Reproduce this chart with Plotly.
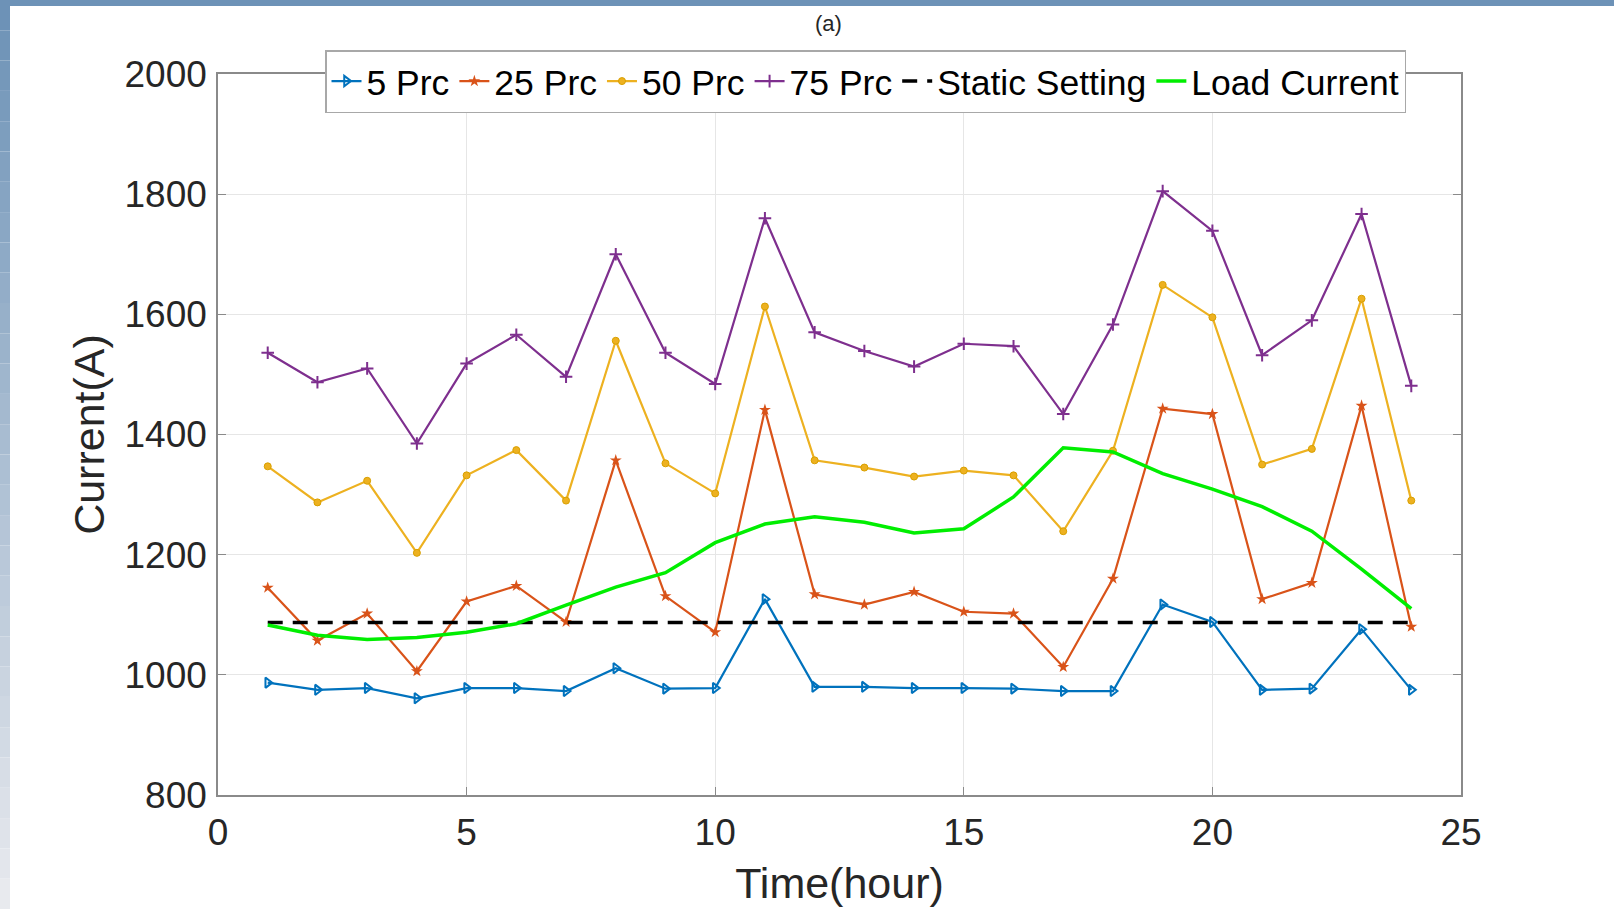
import plotly.graph_objects as go

hours = list(range(1, 25))
prc5 = [987, 975, 978, 961, 978, 978, 973, 1011, 977, 978, 1126, 980,
        980, 978, 978, 977, 973, 973, 1117, 1088, 975, 977, 1076, 975]
prc25 = [1145, 1057, 1102, 1006, 1122, 1148, 1088, 1357, 1131, 1071, 1441, 1134,
         1117, 1138, 1105, 1102, 1013, 1160, 1443, 1434, 1126, 1153, 1448, 1080]
prc50 = [1347, 1287, 1323, 1203, 1332, 1374, 1290, 1556, 1352, 1302, 1613, 1357,
         1345, 1330, 1340, 1332, 1239, 1373, 1649, 1595, 1350, 1376, 1626, 1290]
prc75 = [1536, 1487, 1510, 1385, 1518, 1566, 1496, 1700, 1536, 1484, 1760, 1570,
         1539, 1513, 1551, 1547, 1434, 1583, 1805, 1739, 1532, 1590, 1767, 1481]
static_setting = [1087] * 24
load_current = [1083, 1066, 1059, 1062, 1071, 1085, 1116, 1146, 1170, 1220, 1251, 1263,
                1254, 1236, 1243, 1296, 1378, 1371, 1335, 1309, 1280, 1239, 1176, 1110]

x_ticks = [0, 5, 10, 15, 20, 25]
y_ticks = [800, 1000, 1200, 1400, 1600, 1800, 2000]

FONT = "Liberation Sans, Arial, Helvetica, sans-serif"
W, H = 1614, 909
ML, MR, MT, MB = 218, 153, 74, 114
PW, PH = W - ML - MR, H - MT - MB

fig = go.Figure()
fig.add_trace(go.Scatter(x=hours, y=prc5, name="5 Prc", mode="lines+markers",
                         line=dict(color="#0072BD", width=2.2),
                         marker=dict(symbol="triangle-right-open", size=9,
                                     line=dict(width=2, color="#0072BD"))))
fig.add_trace(go.Scatter(x=hours, y=prc25, name="25 Prc", mode="lines+markers",
                         line=dict(color="#D95319", width=2.2),
                         marker=dict(symbol="star", size=9, color="#D95319")))
fig.add_trace(go.Scatter(x=hours, y=prc50, name="50 Prc", mode="lines+markers",
                         line=dict(color="#EDB120", width=2.2),
                         marker=dict(symbol="circle", size=7, color="#EDB120",
                                     line=dict(width=1, color="#D9A000"))))
fig.add_trace(go.Scatter(x=hours, y=prc75, name="75 Prc", mode="lines+markers",
                         line=dict(color="#7E2F8E", width=2.2),
                         marker=dict(symbol="cross-thin", size=9,
                                     line=dict(width=2, color="#7E2F8E"))))
fig.add_trace(go.Scatter(x=hours, y=static_setting, name="Static Setting", mode="lines",
                         line=dict(color="black", width=3.5, dash="15px,10px")))
fig.add_trace(go.Scatter(x=hours, y=load_current, name="Load Current", mode="lines",
                         line=dict(color="#00EE00", width=3.5)))

def px_x(p):
    return (p - ML) / PW

def px_y(p):
    return (H - MB - p) / PH

shapes = []
# top border strip
shapes.append(dict(type="rect", xref="paper", yref="paper", layer="below",
                   x0=px_x(0), x1=px_x(W), y0=px_y(6), y1=px_y(0),
                   fillcolor="#6d92b7", line=dict(width=0)))
# left border strip with gradient
n = 30
for i in range(n):
    t = i / (n - 1)
    r = int(0x6d + (0xe8 - 0x6d) * t)
    g = int(0x92 + (0xea - 0x92) * t)
    b = int(0xb7 + (0xee - 0xb7) * t)
    shapes.append(dict(type="rect", xref="paper", yref="paper", layer="below",
                       x0=px_x(0), x1=px_x(10),
                       y0=px_y(H * (i + 1) / n), y1=px_y(H * i / n),
                       fillcolor=f"rgb({r},{g},{b})", line=dict(width=0)))

axis_common = dict(showline=True, linecolor="#8a8a8a", linewidth=1.5, mirror="ticks",
                   ticks="inside", ticklen=8, tickcolor="#8a8a8a", tickwidth=1,
                   showgrid=True, gridcolor="#e6e6e6", gridwidth=1, zeroline=False,
                   automargin=False,
                   tickfont=dict(family=FONT, size=37, color="#262626"))

fig.update_layout(
    width=W, height=H,
    margin=dict(l=ML, r=MR, t=MT, b=MB, autoexpand=False),
    paper_bgcolor="white", plot_bgcolor="white",
    font=dict(family=FONT, color="#262626"),
    showlegend=True,
    legend=dict(orientation="h", x=px_x(325), xanchor="left", y=px_y(50), yanchor="top",
                bgcolor="white", bordercolor="#a8a8a8", borderwidth=1.5,
                font=dict(family=FONT, size=35.5, color="black"),
                itemwidth=30, tracegroupgap=0),
    xaxis=dict(range=[0, 25], tickvals=x_ticks, ticklabelstandoff=4,
               title=dict(text="Time(hour)", font=dict(family=FONT, size=43, color="#262626"),
                          standoff=16),
               **axis_common),
    yaxis=dict(range=[800, 2000], tickvals=y_ticks, ticklabelstandoff=2,
               title=dict(text="Current(A)", font=dict(family=FONT, size=43, color="#262626"),
                          standoff=6),
               **axis_common),
    shapes=shapes,
    annotations=[dict(text="(a)", xref="paper", yref="paper", x=px_x(828), y=px_y(23),
                      xanchor="center", yanchor="middle", showarrow=False,
                      font=dict(family=FONT, size=22, color="#262626"))],
)

fig.write_html("out.html", config={"displayModeBar": False},
               post_script="document.body.style.margin='0';document.body.style.overflow='hidden';")
